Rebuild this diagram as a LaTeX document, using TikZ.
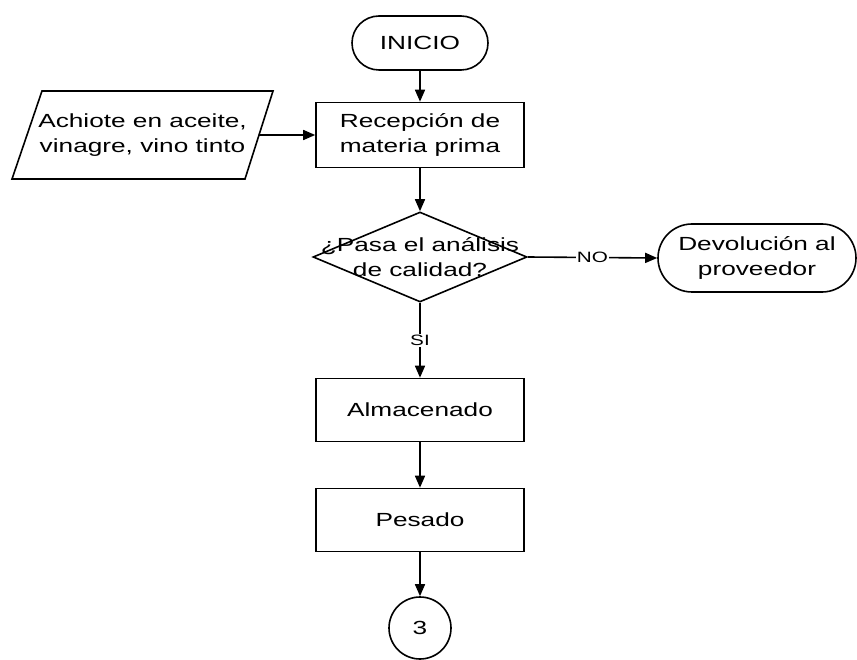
\documentclass[tikz,border=0pt]{standalone}
\usepackage{fontspec}
\setmainfont[FakeStretch=1.38]{Liberation Sans}
\usetikzlibrary{arrows.meta,shapes.geometric,shapes.misc}
\begin{document}
\begin{tikzpicture}[x=1pt,y=-1pt,
  every node/.style={font=\fontsize{19}{25}\selectfont, align=center},
  flow/.style={draw, line width=1.6pt, -{Triangle[length=12pt,width=10pt]}},
  shapeline/.style={draw, line width=1.6pt},
  procbox/.style={shapeline, rectangle, minimum width=208pt, minimum height=63pt, inner sep=0pt},
  term/.style={shapeline, rounded rectangle, inner sep=0pt},
  lbl/.style={fill=white, inner sep=1pt, font=\fontsize{15}{18}\selectfont}]
\useasboundingbox (0,0) rectangle (857,660);

% start terminal
\node[term, minimum width=136pt, minimum height=54pt] (ini) at (420,43) {INICIO};

% raw material input (parallelogram)
\coordinate (pTL) at (42,91);
\coordinate (pTR) at (273,91);
\coordinate (pBR) at (245,179);
\coordinate (pBL) at (12,179);
\draw[shapeline, line join=miter] (pTL) -- (pTR) -- (pBR) -- (pBL) -- cycle;
\coordinate (inpR) at (259,135);
\node (inp) at (142.5,135) {Achiote en aceite,\\vinagre, vino tinto};

% reception
\node[procbox, minimum height=65pt] (rec) at (420,135) {Recepción de\\materia prima};

% quality decision
\node[shapeline, diamond, minimum width=214pt, minimum height=90pt, inner sep=0pt] (q) at (420,257) {};
\node (qtxt) at (q.center) {¿Pasa el análisis\\de calidad?};

% return to supplier
\node[term, minimum width=198pt, minimum height=68pt] (dev) at (757,258) {Devolución al\\proveedor};

% storage and weighing
\node[procbox] (alm) at (420,410) {Almacenado};
\node[procbox] (pes) at (420,520) {Pesado};

% off-page connector
\node[shapeline, circle, minimum size=62pt, inner sep=0pt] (c3) at (420,628) {3};

% connectors
\path[flow] (ini) -- (rec);
\path[flow] (inpR) -- (rec.west);
\path[flow] (rec) -- (q.north);
\path[flow] (q.east) -- node[lbl] {NO} (dev.west);
\path[flow] (q.south) -- node[lbl] {SI} (alm.north);
\path[flow] (alm) -- (pes);
\path[flow] (pes) -- (c3);
\end{tikzpicture}
\end{document}
